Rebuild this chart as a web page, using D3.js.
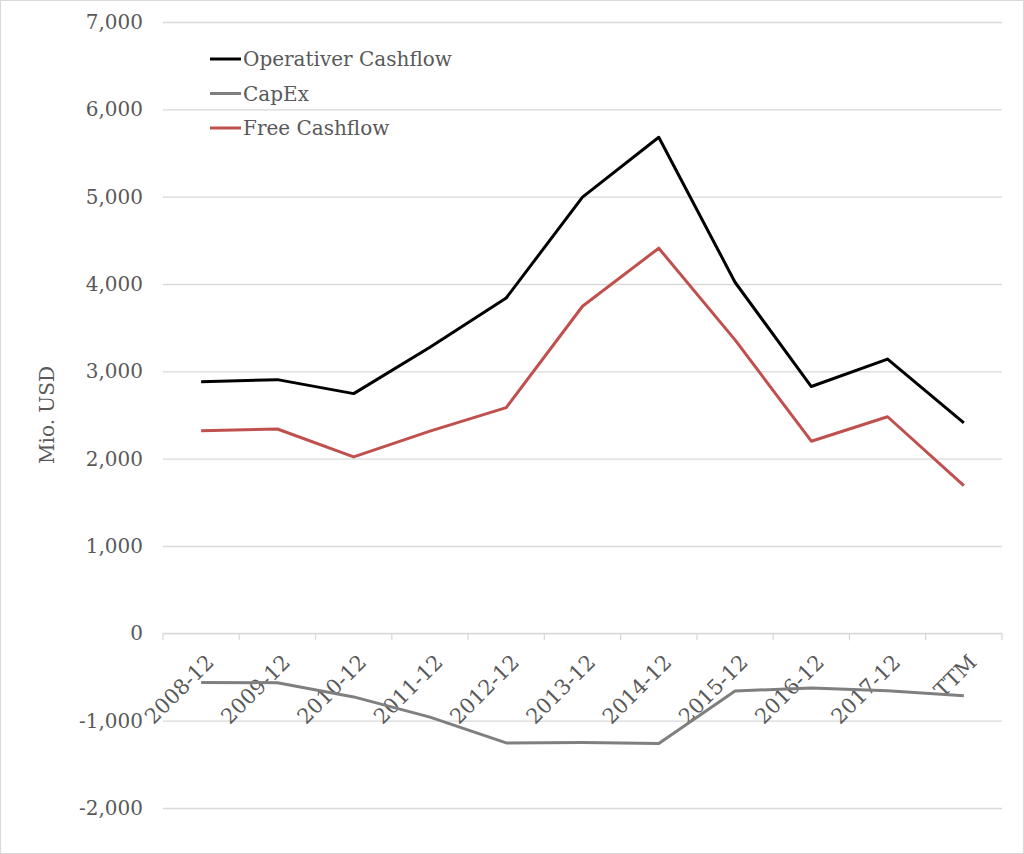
<!DOCTYPE html>
<html>
<head>
<meta charset="utf-8">
<script src="https://cdn.jsdelivr.net/npm/d3@7"></script>
<style>
  body { margin: 0; background: #fff; }
  text { font-family: "DejaVu Serif", serif; fill: #595959; }
</style>
</head>
<body>
<div id="chart"></div>
<script>
// Cashflow chart (Mio. USD)
var categories = ["2008-12", "2009-12", "2010-12", "2011-12", "2012-12", "2013-12",
                  "2014-12", "2015-12", "2016-12", "2017-12", "TTM"];
var operativerCashflow = [2880, 2905, 2745, 3275, 3840, 4995, 5680, 4020, 2826, 3140, 2410];
var capEx = [-563, -565, -728, -960, -1255, -1250, -1262, -660, -625, -657, -715];
var freeCashflow = [2320, 2340, 2020, 2315, 2585, 3745, 4410, 3360, 2200, 2480, 1692];
var yTicks = [-2000, -1000, 0, 1000, 2000, 3000, 4000, 5000, 6000, 7000];

var seriesNames = ["Operativer Cashflow", "CapEx", "Free Cashflow"];
var seriesColors = ["#000000", "#7f7f7f", "#c0504d"];

var svgWidth = 1024;
var svgHeight = 854;
var margin = { top: 22, right: 22, bottom: 46, left: 163 };
var width = svgWidth - margin.left - margin.right;
var height = svgHeight - margin.top - margin.bottom;

var svg = d3.select("#chart")
    .append("svg")
    .attr("width", svgWidth)
    .attr("height", svgHeight);

// outer frame
svg.append("rect")
    .attr("x", 0.5).attr("y", 0.5)
    .attr("width", svgWidth - 1).attr("height", svgHeight - 1)
    .attr("fill", "none")
    .attr("stroke", "#d9d9d9");

var chart = svg.append("g")
    .attr("transform", `translate(${margin.left}, ${margin.top})`);

// scales
var xScale = d3.scaleBand()
    .domain(categories)
    .range([0, width]);

var yScale = d3.scaleLinear()
    .domain([-2000, 7000])
    .range([height, 0]);

// gridlines + y labels (hyphen as minus, like the original)
var commaFmt = d3.format(",");
var yAxis = d3.axisLeft(yScale)
    .tickValues(yTicks)
    .tickSize(-width)
    .tickPadding(20)
    .tickFormat(d => (d < 0 ? "-" : "") + commaFmt(Math.abs(d)));

var yAxisG = chart.append("g").call(yAxis);
yAxisG.select(".domain").remove();
yAxisG.selectAll(".tick line").attr("stroke", "#d9d9d9").attr("stroke-width", 1.3);
yAxisG.selectAll(".tick text")
    .attr("font-size", 20)
    .attr("font-family", "DejaVu Serif")
    .attr("fill", "#595959");

// category axis at zero
var xAxisG = chart.append("g")
    .attr("transform", `translate(0, ${yScale(0)})`);

xAxisG.append("line")
    .attr("x1", 0).attr("x2", width)
    .attr("stroke", "#d9d9d9").attr("stroke-width", 1.3);

var boundaries = categories.map(function(c) { return xScale(c); }).concat([width]);
xAxisG.selectAll(".cat-tick").data(boundaries).enter()
    .append("line")
    .attr("class", "cat-tick")
    .attr("x1", d => d).attr("x2", d => d)
    .attr("y1", 0).attr("y2", 7)
    .attr("stroke", "#d9d9d9").attr("stroke-width", 1.3);

xAxisG.selectAll(".cat-label").data(categories).enter()
    .append("text")
    .attr("class", "cat-label")
    .attr("transform", d => `translate(${xScale(d) + xScale.bandwidth() / 2 + 3}, 19) rotate(-45)`)
    .attr("text-anchor", "end")
    .attr("dy", "0.75em")
    .attr("font-size", 21)
    .text(d => d);

// lines
var allSeries = [operativerCashflow, capEx, freeCashflow];
var line = d3.line()
    .x((d, i) => xScale(categories[i]) + xScale.bandwidth() / 2)
    .y(d => yScale(d));

chart.selectAll(".series").data(allSeries).enter()
    .append("path")
    .attr("class", "series")
    .attr("d", d => line(d))
    .attr("fill", "none")
    .attr("stroke", (d, i) => seriesColors[i])
    .attr("stroke-width", 3)
    .attr("stroke-linejoin", "round");

// y axis title
svg.append("text")
    .attr("transform", "translate(54, 415) rotate(-90)")
    .attr("text-anchor", "middle")
    .attr("font-size", 20)
    .text("Mio. USD");

// legend
var legend = svg.append("g")
    .attr("transform", "translate(210, 59)");

var legendItems = legend.selectAll(".legend-item").data(seriesNames).enter()
    .append("g")
    .attr("class", "legend-item")
    .attr("transform", (d, i) => `translate(0, ${i * 34.5})`);

legendItems.append("line")
    .attr("x1", 0).attr("x2", 31)
    .attr("stroke", (d, i) => seriesColors[i])
    .attr("stroke-width", 3);

legendItems.append("text")
    .attr("x", 33)
    .attr("dy", "0.35em")
    .attr("font-size", 20)
    .text(d => d);
</script>
</body>
</html>
